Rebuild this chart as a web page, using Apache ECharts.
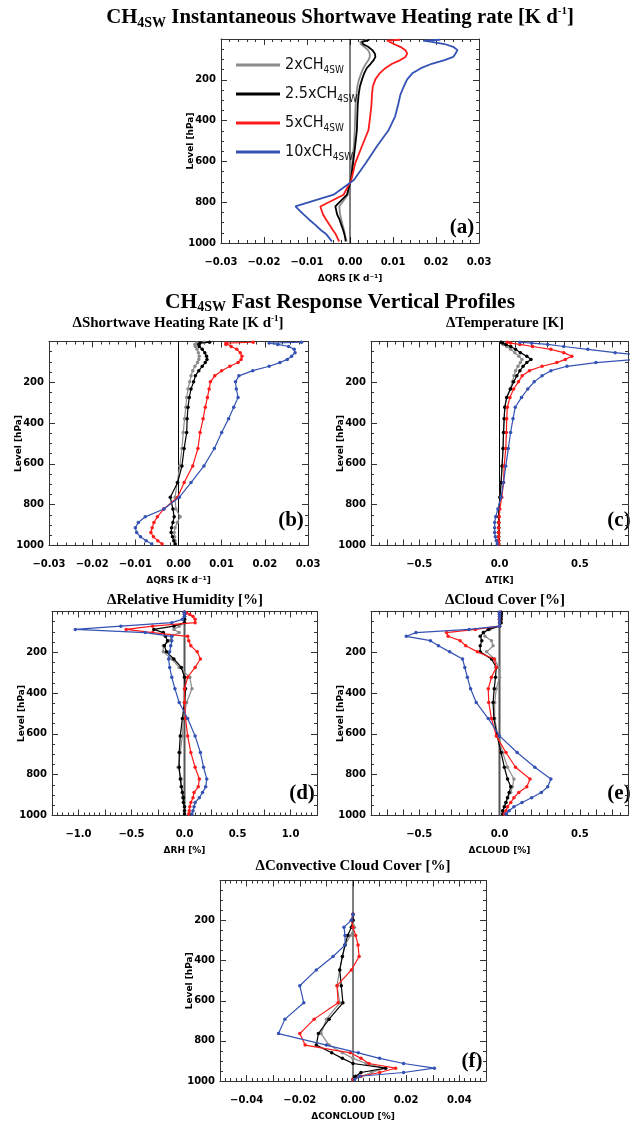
<!DOCTYPE html>
<html>
<head>
<meta charset="utf-8">
<script src="https://cdn.jsdelivr.net/npm/echarts@6/dist/echarts.min.js"></script>
<style>
html, body { margin: 0; padding: 0; background: #fff; }
#main { width: 631px; height: 1122px; }
</style>
</head>
<body>
<div id="main"></div>
<script>
// model pressure levels [hPa]
var levels = [3.6, 7.6, 14.4, 24.6, 38.3, 54.6, 72.0, 87.8, 103.3, 121.5, 143.0, 168.2, 197.9, 232.8, 273.9, 322.2,
	379.1, 446.0, 524.7, 609.8, 691.4, 763.4, 820.9, 859.5, 887.0, 912.6, 936.2, 957.5, 976.3, 992.6];

var seriesNames = ['2xCH4SW', '2.5xCH4SW', '5xCH4SW', '10xCH4SW'];

// (a) instantaneous shortwave heating rate [K/d]
var qrsInst2x = [0.0040, 0.0035, 0.0024, 0.0025, 0.0033, 0.0042, 0.0046, 0.0046, 0.0043, 0.0037, 0.0031, 0.0026, 0.0021, 0.0017, 0.0015,
	0.0013, 0.0012, 0.0011, 0.0009, 0.0005, 0.0001, -0.0005, -0.0025, -0.0023, -0.0020, -0.0017, -0.0014, -0.0012, -0.0010, -0.0008];
var qrsInst25x = [0.0045, 0.0040, 0.0028, 0.0030, 0.0042, 0.0052, 0.0058, 0.0059, 0.0055, 0.0048, 0.0039, 0.0033, 0.0028, 0.0023, 0.0020,
	0.0018, 0.0017, 0.0016, 0.0012, 0.0007, 0.0002, -0.0007, -0.0034, -0.0030, -0.0024, -0.0020, -0.0016, -0.0013, -0.0011, -0.0010];
var qrsInst5x = [0.0117, 0.0086, 0.0082, 0.0102, 0.0117, 0.0129, 0.0133, 0.0129, 0.0117, 0.0098, 0.0082, 0.0069, 0.0059, 0.0053, 0.0051,
	0.0050, 0.0047, 0.0043, 0.0028, 0.0012, 0.0003, -0.0015, -0.0069, -0.0063, -0.0055, -0.0047, -0.0040, -0.0033, -0.0029, -0.0025];
var qrsInst10x = [0.0210, 0.0170, 0.0190, 0.0220, 0.0240, 0.0250, 0.0245, 0.0240, 0.0220, 0.0190, 0.0165, 0.0145, 0.0133, 0.0125, 0.0117,
	0.0112, 0.0105, 0.0090, 0.0063, 0.0036, 0.0009, -0.0038, -0.0127, -0.0108, -0.0094, -0.0080, -0.0068, -0.0055, -0.0048, -0.0042];

// (b) fast response shortwave heating rate [K/d]
var qrs2x = [0.0060, 0.0042, 0.0038, 0.0039, 0.0043, 0.0046, 0.0048, 0.0047, 0.0044, 0.0038, 0.0033, 0.0029, 0.0026, 0.0022, 0.0019,
	0.0017, 0.0014, 0.0011, 0.0008, 0.0003, -0.0003, -0.0008, -0.0006, 0.0004, -0.0003, -0.0008, -0.0010, -0.0009, -0.0008, -0.0007];
var qrs25x = [0.0072, 0.0050, 0.0047, 0.0048, 0.0055, 0.0061, 0.0065, 0.0066, 0.0062, 0.0055, 0.0047, 0.0039, 0.0035, 0.0029, 0.0025,
	0.0022, 0.0020, 0.0019, 0.0013, 0.0008, -0.0002, -0.0019, -0.0013, -0.0010, -0.0013, -0.0016, -0.0017, -0.0014, -0.0011, -0.0008];
var qrs5x = [0.0173, 0.0110, 0.0110, 0.0122, 0.0135, 0.0143, 0.0147, 0.0145, 0.0138, 0.0119, 0.0100, 0.0084, 0.0074, 0.0071, 0.0067,
	0.0062, 0.0057, 0.0050, 0.0045, 0.0033, 0.0013, -0.0002, -0.0034, -0.0049, -0.0057, -0.0061, -0.0064, -0.0058, -0.0048, -0.0038];
var qrs10x = [0.0285, 0.0210, 0.0230, 0.0255, 0.0268, 0.0270, 0.0262, 0.0252, 0.0235, 0.0210, 0.0172, 0.0140, 0.0132, 0.0134, 0.0138,
	0.0128, 0.0116, 0.0100, 0.0083, 0.0059, 0.0029, 0.0002, -0.0034, -0.0077, -0.0093, -0.0100, -0.0097, -0.0088, -0.0075, -0.0062];

// (c) temperature [K]
var temp2x = [0.010, 0.015, 0.025, 0.045, 0.070, 0.095, 0.120, 0.140, 0.130, 0.115, 0.100, 0.090, 0.080, 0.065, 0.045,
	0.033, 0.029, 0.025, 0.022, 0.016, 0.010, 0.003, -0.004, -0.005, -0.005, -0.005, -0.005, -0.005, -0.005, -0.005];
var temp25x = [0.010, 0.020, 0.040, 0.070, 0.100, 0.130, 0.170, 0.196, 0.170, 0.147, 0.127, 0.108, 0.088, 0.069, 0.045,
	0.033, 0.029, 0.025, 0.022, 0.016, 0.010, 0.003, -0.004, -0.005, -0.005, -0.005, -0.006, -0.006, -0.006, -0.006];
var temp5x = [0.049, 0.069, 0.127, 0.206, 0.320, 0.400, 0.450, 0.410, 0.357, 0.265, 0.186, 0.141, 0.118, 0.088, 0.065,
	0.049, 0.045, 0.043, 0.039, 0.029, 0.025, 0.014, 0.002, -0.002, -0.004, -0.005, -0.005, -0.005, -0.005, -0.005];
var temp10x = [0.127, 0.200, 0.300, 0.400, 0.550, 0.720, 0.950, 0.850, 0.600, 0.420, 0.320, 0.265, 0.216, 0.176, 0.137,
	0.098, 0.084, 0.069, 0.055, 0.039, 0.025, 0.010, -0.010, -0.024, -0.030, -0.030, -0.030, -0.026, -0.020, -0.014];

// (d) relative humidity [%]
var rh2x = [0, 0, 0, 0, 0, 0, -0.05, -0.10, -0.05, -0.12, -0.14, -0.20, -0.20, -0.12, -0.05,
	0.05, 0.07, 0.02, -0.01, -0.02, -0.04, -0.06, -0.03, -0.03, -0.02, -0.02, -0.01, 0, 0, 0];
var rh25x = [0, 0, 0, 0, 0, 0, -0.10, -0.29, -0.20, -0.18, -0.16, -0.19, -0.17, -0.10, -0.03,
	0, 0.01, 0, -0.02, -0.04, -0.05, -0.05, -0.04, -0.03, -0.02, -0.01, -0.01, 0, 0, 0];
var rh5x = [0, 0.02, 0.05, 0.08, 0.10, 0.10, -0.30, -0.55, -0.30, 0.03, 0.04, 0.06, 0.12, 0.15, 0.10,
	0.03, 0, 0, 0.01, 0.03, 0.06, 0.10, 0.14, 0.13, 0.09, 0.08, 0.06, 0.05, 0.045, 0.04];
var rh10x = [0, 0, 0, 0, -0.02, -0.12, -0.60, -1.03, -0.37, -0.12, -0.12, -0.13, -0.14, -0.15, -0.14,
	-0.12, -0.09, -0.05, 0.03, 0.10, 0.15, 0.18, 0.21, 0.20, 0.17, 0.14, 0.10, 0.09, 0.08, 0.07];

// (e) cloud cover [%]
var cld2x = [0.01, 0.01, 0.01, 0.01, 0.01, 0.01, 0, -0.06, -0.10, -0.09, -0.05, -0.04, -0.08, -0.03, -0.005,
	0, -0.02, -0.03, -0.03, -0.01, 0.02, 0.05, 0.09, 0.08, 0.07, 0.05, 0.04, 0.03, 0.02, 0.02];
var cld25x = [0.01, 0.01, 0.01, 0.01, 0.01, 0.01, 0, -0.07, -0.10, -0.12, -0.11, -0.12, -0.12, -0.05, -0.02,
	-0.025, -0.033, -0.04, -0.035, -0.015, 0.01, 0.03, 0.05, 0.07, 0.06, 0.05, 0.04, 0.03, 0.02, 0.02];
var cld5x = [0, 0, 0, 0, 0, 0, 0, -0.15, -0.33, -0.32, -0.245, -0.21, -0.137, -0.033, -0.02,
	-0.05, -0.07, -0.067, -0.05, -0.02, 0.04, 0.10, 0.19, 0.17, 0.12, 0.09, 0.07, 0.05, 0.04, 0.03];
var cld10x = [0, 0, 0, 0, 0, 0, 0, -0.19, -0.52, -0.58, -0.43, -0.38, -0.31, -0.23, -0.216,
	-0.20, -0.18, -0.145, -0.07, 0, 0.11, 0.22, 0.32, 0.30, 0.26, 0.20, 0.14, 0.09, 0.06, 0.04];

// (f) convective cloud cover [%]  (no change above ~170 hPa)
var conv2x = [null, null, null, null, null, null, null, null, null, null, null, 0, 0, 0.0005, -0.001,
	-0.003, -0.004, -0.005, -0.006, -0.005, -0.010, -0.012, -0.009, -0.004, 0.000, 0.005, 0.012, 0.007, 0.003, 0];
var conv25x = [null, null, null, null, null, null, null, null, null, null, null, 0, 0, -0.0006, -0.002,
	-0.003, -0.004, -0.005, -0.0044, -0.0038, -0.009, -0.013, -0.0138, -0.008, -0.004, 0.000, 0.0123, 0.003, 0.001, 0];
var conv5x = [null, null, null, null, null, null, null, null, null, null, null, 0, -0.0006, 0.000, 0.001,
	0.0019, 0.0023, -0.0006, -0.006, -0.0056, -0.0146, -0.020, -0.018, -0.001, 0.003, 0.006, 0.016, 0.010, 0.003, 0];
var conv10x = [null, null, null, null, null, null, null, null, null, null, null, 0, -0.0006, -0.0034, -0.003,
	-0.003, -0.0075, -0.0138, -0.020, -0.0185, -0.0256, -0.028, -0.010, 0.002, 0.010, 0.019, 0.0306, 0.019, 0.0025, 0.0006];

var chart = echarts.init(document.getElementById('main'));

var lineColors = ['#8c8c8c', '#000000', '#ff1a1a', '#3452b4'];
var serif = 'Liberation Serif, Times New Roman, serif';
var condensed = 'DejaVu Sans Condensed, Liberation Sans Narrow, Liberation Sans';

var panels = [
	{grid: {left: 221, top: 39, width: 258, height: 204}, min: -0.03, max: 0.03, step: 0.01, every: 0.01, dec: 2, minor: 5,
		xname: 'ΔQRS [K d⁻¹]', lines: [qrsInst2x, qrsInst25x, qrsInst5x, qrsInst10x], dots: false, width: 1.8, zero: '#000', zeroW: 1},
	{grid: {left: 49, top: 341.5, width: 259, height: 204}, min: -0.03, max: 0.03, step: 0.01, every: 0.01, dec: 2, minor: 5,
		xname: 'ΔQRS [K d⁻¹]', lines: [qrs2x, qrs25x, qrs5x, qrs10x], dots: true, width: 1.2, zero: '#000', zeroW: 1},
	{grid: {left: 371, top: 341.5, width: 268, height: 204}, min: -0.8, max: 0.8, step: 0.1, every: 0.5, dec: 1, minor: 2,
		xname: 'ΔT[K]', lines: [temp2x, temp25x, temp5x, temp10x], dots: true, width: 1.2, zero: '#000', zeroW: 1},
	{grid: {left: 52, top: 611.5, width: 265, height: 204}, min: -1.25, max: 1.25, step: 0.25, every: 0.5, dec: 1, minor: 5,
		xname: 'ΔRH [%]', lines: [rh2x, rh25x, rh5x, rh10x], dots: true, width: 1.2, zero: '#555', zeroW: 2},
	{grid: {left: 371, top: 611.5, width: 268, height: 204}, min: -0.8, max: 0.8, step: 0.1, every: 0.5, dec: 1, minor: 2,
		xname: 'ΔCLOUD [%]', lines: [cld2x, cld25x, cld5x, cld10x], dots: true, width: 1.2, zero: '#555', zeroW: 2},
	{grid: {left: 220, top: 880.5, width: 266, height: 204}, min: -0.05, max: 0.05, step: 0.01, every: 0.02, dec: 2, minor: 5,
		xname: 'ΔCONCLOUD [%]', lines: [conv2x, conv25x, conv5x, conv10x], dots: true, width: 1.2, zero: '#000', zeroW: 1}
];

function tickFormatter(every, dec) {
	return function (v) {
		var r = v / every;
		if (Math.abs(r - Math.round(r)) > 1e-6) return '';
		if (Math.abs(v) < 1e-9) v = 0;
		return v.toFixed(dec).replace('-', '\u2212');
	};
}

var grids = [], xAxes = [], yAxes = [], series = [];
var frame = {onZero: false, lineStyle: {color: '#333', width: 1}};
var tick = {show: true, inside: true, length: 6, lineStyle: {color: '#333'}};
var nameFont = {fontSize: 9, fontFamily: 'DejaVu Sans', fontWeight: 'bold', color: '#000'};

panels.forEach(function (p, i) {
	grids.push(p.grid);
	var minorX = {show: true, splitNumber: p.minor, length: 3, lineStyle: {color: '#333'}};
	var minorY = {show: true, splitNumber: 4, length: 3, lineStyle: {color: '#333'}};
	xAxes.push({
		type: 'value', gridIndex: i, position: 'bottom', min: p.min, max: p.max, interval: p.step,
		axisLine: frame, axisTick: tick, minorTick: minorX, splitLine: {show: false},
		axisLabel: {margin: 14, fontSize: 10, fontFamily: 'DejaVu Sans', fontWeight: 'bold', color: '#000',
			formatter: tickFormatter(p.every, p.dec), showMinLabel: true, showMaxLabel: true, interval: 0},
		name: p.xname, nameLocation: 'middle', nameGap: 31, nameMoveOverlap: false,
		nameTextStyle: nameFont
	});
	xAxes.push({
		type: 'value', gridIndex: i, position: 'top', min: p.min, max: p.max, interval: p.step,
		axisLine: frame, axisTick: tick, minorTick: minorX, splitLine: {show: false}, axisLabel: {show: false}
	});
	yAxes.push({
		type: 'value', gridIndex: i, position: 'left', inverse: true, min: 0, max: 1000, interval: 200,
		axisLine: frame, axisTick: tick, minorTick: minorY, splitLine: {show: false},
		axisLabel: {margin: 5, fontSize: 10, fontFamily: 'DejaVu Sans', fontWeight: 'bold', color: '#000',
			formatter: function (v) { return v === 0 ? '' : v; }},
		name: 'Level [hPa]', nameLocation: 'middle', nameGap: 26, nameMoveOverlap: false,
		nameTextStyle: nameFont
	});
	yAxes.push({
		type: 'value', gridIndex: i, position: 'right', inverse: true, min: 0, max: 1000, interval: 200,
		axisLine: frame, axisTick: tick, minorTick: minorY, splitLine: {show: false}, axisLabel: {show: false}
	});

	// zero reference line
	series.push({
		type: 'line', xAxisIndex: 2 * i, yAxisIndex: 2 * i, data: [[0, 0], [0, 1000]],
		symbol: 'none', silent: true, z: 1, lineStyle: {color: p.zero, width: p.zeroW}
	});

	p.lines.forEach(function (vals, k) {
		var pts = [];
		levels.forEach(function (lev, j) {
			if (vals[j] !== null) pts.push([vals[j], lev]);
		});
		series.push({
			type: 'line', name: seriesNames[k], xAxisIndex: 2 * i, yAxisIndex: 2 * i, data: pts,
			symbol: p.dots ? 'circle' : 'none', symbolSize: 3.5, showSymbol: p.dots, z: 3 + k,
			lineStyle: {color: lineColors[k], width: p.width},
			itemStyle: {color: lineColors[k]}
		});
	});
});

function titleRich(size) {
	return {
		m: {fontFamily: serif, fontWeight: 'bold', fontSize: size, lineHeight: size + 4, fill: '#000'},
		s: {fontFamily: serif, fontWeight: 'bold', fontSize: Math.round(size * 0.65), lineHeight: 10, verticalAlign: 'bottom', fill: '#000'},
		p: {fontFamily: serif, fontWeight: 'bold', fontSize: Math.round(size * 0.55), lineHeight: 10, verticalAlign: 'top', fill: '#000'}
	};
}
var panelRich = {
	m: {fontFamily: serif, fontWeight: 'bold', fontSize: 15, lineHeight: 18, fill: '#000'},
	p: {fontFamily: serif, fontWeight: 'bold', fontSize: 9, lineHeight: 8, verticalAlign: 'top', fill: '#000'}
};

function label(x, y, text, rich) {
	return {type: 'text', x: x, y: y, silent: true,
		style: {text: text, rich: rich, align: 'center', verticalAlign: 'middle'}};
}
function tag(x, y, text) {
	return {type: 'text', x: x, y: y, silent: true,
		style: {text: text, align: 'center', verticalAlign: 'middle', fill: '#000',
			fontFamily: serif, fontWeight: 'bold', fontSize: 21}};
}

var option = {
	animation: false,
	backgroundColor: '#fff',
	grid: grids,
	xAxis: xAxes,
	yAxis: yAxes,
	series: series,
	legend: {
		data: seriesNames, left: 231, top: 52, orient: 'vertical',
		icon: 'rect', itemWidth: 44, itemHeight: 3, itemGap: 11, selectedMode: false,
		formatter: function (n) {
			return '{t|' + n.replace('CH4SW', 'CH') + '}{s|4SW}';
		},
		textStyle: {
			rich: {
				t: {fontFamily: condensed, fontSize: 16, lineHeight: 20, color: '#111'},
				s: {fontFamily: condensed, fontSize: 10, lineHeight: 10, verticalAlign: 'bottom', color: '#111'}
			}
		}
	},
	graphic: [
		label(340, 18, '{m|CH}{s|4SW}{m| Instantaneous Shortwave Heating rate [K d}{p|-1}{m|]}', titleRich(20.8)),
		label(340, 302, '{m|CH}{s|4SW}{m| Fast Response Vertical Profiles}', titleRich(21.5)),
		label(178, 323, '{m|ΔShortwave Heating Rate [K d}{p|-1}{m|]}', panelRich),
		label(505, 323, '{m|ΔTemperature [K]}', panelRich),
		label(185, 600, '{m|ΔRelative Humidity [%]}', panelRich),
		label(505, 600, '{m|ΔCloud Cover [%]}', panelRich),
		label(353, 866, '{m|ΔConvective Cloud Cover [%]}', panelRich),
		tag(462, 228, '(a)'),
		tag(291, 521, '(b)'),
		tag(619, 521, '(c)'),
		tag(302, 794, '(d)'),
		tag(619, 794, '(e)'),
		tag(472, 1062, '(f)')
	]
};

chart.setOption(option);
</script>
</body>
</html>
